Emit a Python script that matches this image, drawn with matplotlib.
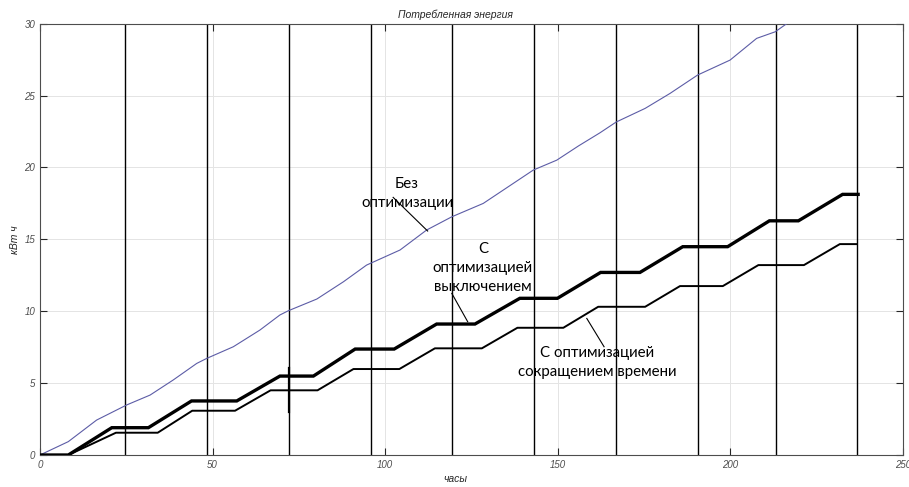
import matplotlib
matplotlib.use("Agg")
import matplotlib.pyplot as plt

# Energy without optimisation (kWh vs hours)
base_t = [0, 8.2, 16.4, 22.2, 25.1, 31.9, 38.6, 45.4, 48.3, 56, 63.7, 69.5, 71.9,
          80.2, 87.9, 94.6, 104.3, 112, 119.3, 128.4, 142.9, 149.7, 156, 162.2,
          166.9, 175.3, 182.5, 190.5, 199.9, 207.6, 213, 216.3]
base_e = [0, 0.93, 2.43, 3.13, 3.48, 4.17, 5.22, 6.37, 6.72, 7.53, 8.69, 9.74, 10.03,
          10.85, 12.05, 13.21, 14.26, 15.65, 16.57, 17.5, 19.82, 20.51, 21.5, 22.41,
          23.16, 24.11, 25.15, 26.43, 27.47, 28.98, 29.44, 30.0]

# Optimisation by switching off (thick staircase)
off_t = [0, 8.2, 20.8, 31.4, 43.9, 57, 69.5, 79.2, 91.3, 102.6, 114.9, 126, 139,
         149.9, 162.4, 173.8, 186.2, 199.2, 211.3, 219.7, 232.5, 237]
off_e = [0, 0, 1.90, 1.90, 3.76, 3.76, 5.49, 5.49, 7.37, 7.37, 9.11, 9.11, 10.9,
         10.9, 12.7, 12.7, 14.49, 14.49, 16.29, 16.29, 18.13, 18.13]

# Optimisation by reducing operating time (thin staircase)
cut_t = [0, 8.2, 22, 34.1, 44.1, 56.5, 66.8, 80.4, 90.8, 104.1, 114.4, 128, 138.3,
         151.6, 161.7, 175.3, 185.4, 197.8, 208.1, 221.3, 231.7, 236.6]
cut_e = [0, 0, 1.55, 1.55, 3.08, 3.08, 4.5, 4.5, 5.98, 5.98, 7.42, 7.42, 8.85,
         8.85, 10.31, 10.31, 11.75, 11.75, 13.21, 13.21, 14.67, 14.67]

# Day boundaries
day_marks = [24.7, 48.5, 72.1, 95.8, 119.4, 143.2, 166.9, 190.5, 213.1, 236.8]

x_ticks = [0, 50, 100, 150, 200, 250]
y_ticks = [0, 5, 10, 15, 20, 25, 30]

tick_font = ["Liberation Sans", "DejaVu Sans"]
note_font = ["Lato", "DejaVu Sans"]

fig = plt.figure(figsize=(9.09, 4.87), dpi=100)
ax = fig.add_axes([0.044, 0.0657, 0.9494, 0.8856])

ax.set_xlim(0, 250)
ax.set_ylim(0, 30)
ax.set_xticks(x_ticks)
ax.set_yticks(y_ticks)
ax.grid(True, color="#e4e4e4", linewidth=0.7)
ax.set_axisbelow(True)

for d in day_marks:
    ax.axvline(d, color="black", linewidth=1.0, zorder=2)
ax.plot([72.1, 72.1], [3.0, 6.05], color="black", linewidth=1.6, zorder=3)

ax.plot(base_t, base_e, color="#5c5ca6", linewidth=0.8, zorder=4)
ax.plot(off_t, off_e, color="black", linewidth=2.4, zorder=4,
        solid_joinstyle="miter")
ax.plot(cut_t, cut_e, color="black", linewidth=1.4, zorder=4)

# Leader lines and notes
ax.plot([102.3, 112.3], [17.92, 15.58], color="black", linewidth=0.8, zorder=5)
ax.plot([119.3, 123.9], [11.24, 9.27], color="black", linewidth=0.8, zorder=5)
ax.plot([158.4, 163.4], [9.5, 7.53], color="black", linewidth=0.8, zorder=5)

note_kw = dict(ha="center", va="center", fontsize=10.8, family=note_font,
               linespacing=1.45, zorder=6)
ax.text(106.3, 18.2, "Без\nоптимизации", **note_kw)
ax.text(128.3, 13.0, "С\nоптимизацией\nвыключением", **note_kw)
ax.text(161.3, 6.43, "С оптимизацией\nсокращением времени", **note_kw)

for s in ax.spines.values():
    s.set_color("#4d4d4d")
    s.set_linewidth(0.8)
ax.tick_params(direction="in", length=5, width=0.8, color="#262626",
               top=True, right=True, labelsize=7, labelcolor="#4d4d4d")
for lab in ax.get_xticklabels() + ax.get_yticklabels():
    lab.set_fontstyle("italic")
    lab.set_family(tick_font)

ax.set_title("Потребленная энергия", fontsize=7.5, fontstyle="italic",
             family=tick_font, color="#262626", pad=4, x=0.481)
ax.set_xlabel("часы", fontsize=7.5, fontstyle="italic", family=tick_font,
              color="#262626", labelpad=4)
ax.xaxis.set_label_coords(0.481, -0.045)
ax.set_ylabel("кВт ч", fontsize=7.5, fontstyle="italic", family=tick_font,
              color="#262626", labelpad=3)

fig.savefig("out.png", dpi=100)
